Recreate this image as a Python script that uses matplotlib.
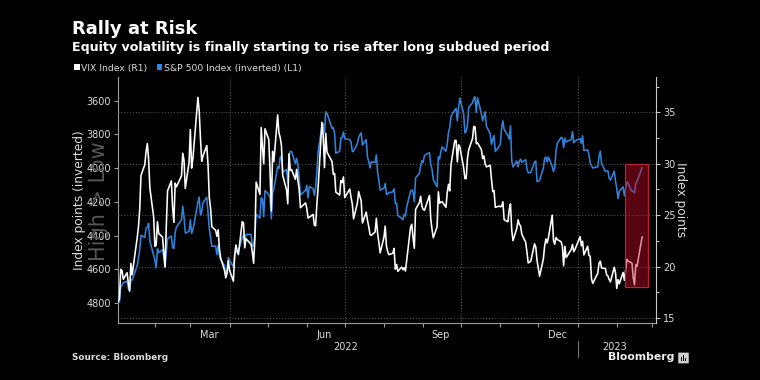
import matplotlib
matplotlib.use("Agg")
import matplotlib.pyplot as plt
import matplotlib.dates as mdates
import matplotlib.transforms as mtransforms
from matplotlib.patches import Rectangle, Patch, FancyBboxPatch
import pandas as pd

# ---------------- data ----------------
holidays = ['2022-01-17', '2022-02-21', '2022-04-15', '2022-05-30', '2022-06-20',
            '2022-07-04', '2022-09-05', '2022-11-24', '2022-12-26', '2023-01-02',
            '2023-01-16', '2023-02-20']
dates = pd.bdate_range('2022-01-03', '2023-02-21')
dates = dates[~dates.isin(pd.to_datetime(holidays))]

spx = [
    4796.6, 4793.5, 4700.6, 4696.1, 4677.0, 4670.3, 4713.1, 4726.4, 4659.0, 4662.9, 4577.1, 4532.8, 4482.7, 4397.9, 4410.1, 4356.5, 4349.9, 4326.5, 4431.9, 4515.6,
    4546.5, 4589.4, 4477.4, 4500.5, 4483.9, 4521.5, 4587.2, 4504.1, 4418.6, 4401.7, 4471.1, 4475.0, 4380.3, 4348.9, 4304.8, 4225.5, 4288.7, 4384.7, 4373.9,
    4306.3, 4386.5, 4363.5, 4328.9, 4201.1, 4170.7, 4277.9, 4259.5, 4204.3, 4173.1, 4262.5, 4357.9, 4411.7, 4463.1, 4461.2, 4511.6, 4456.2, 4520.2, 4543.1, 4575.5, 4631.6, 4602.5, 4530.4,
    4545.9, 4582.6, 4525.1, 4481.2, 4500.2, 4488.3, 4412.5, 4397.5, 4446.6, 4392.6, 4391.7, 4462.2, 4459.5, 4393.7, 4271.8, 4296.1, 4175.2, 4183.9, 4287.5, 4131.9,
    4155.4, 4175.5, 4300.2, 4146.9, 4123.3, 3991.2, 4001.1, 3935.2, 3930.1, 4023.9, 4008.0, 4088.9, 3923.7, 3900.8, 3901.4, 3973.8, 3941.5, 3978.7, 4057.8, 4158.2, 4132.2,
    4101.2, 4176.8, 4108.5, 4121.4, 4160.7, 4115.8, 4017.8, 3900.9, 3749.6, 3735.5, 3790.0, 3666.8, 3674.8, 3764.8, 3759.9, 3795.7, 3911.7, 3900.1, 3821.6, 3818.8, 3785.4,
    3825.3, 3831.4, 3845.1, 3902.6, 3899.4, 3854.4, 3818.8, 3801.8, 3790.4, 3863.2, 3830.9, 3936.7, 3959.9, 3998.9, 3961.6, 3966.8, 3921.1, 4023.6, 4072.4, 4130.3,
    4118.6, 4091.2, 4155.2, 4151.9, 4145.2, 4140.1, 4122.5, 4210.2, 4207.3, 4280.2, 4297.1, 4305.2, 4274.0, 4283.7, 4228.5, 4138.0, 4128.7, 4140.8, 4199.1, 4057.7, 4030.6, 3986.2, 3955.0,
    3966.9, 3924.3, 3908.2, 3979.9, 4006.2, 4067.4, 4110.4, 3932.7, 3946.0, 3901.4, 3873.3, 3899.9, 3856.1, 3789.9, 3758.0, 3693.2, 3655.0, 3647.3, 3719.0, 3640.5, 3585.6,
    3678.4, 3790.9, 3783.3, 3744.5, 3639.7, 3612.4, 3588.8, 3577.0, 3669.9, 3583.1, 3678.0, 3720.0, 3695.2, 3665.8, 3752.8, 3797.3, 3859.1, 3830.6, 3807.3, 3901.1, 3872.0,
    3856.1, 3759.7, 3719.9, 3770.6, 3806.8, 3828.1, 3748.6, 3956.4, 3992.9, 3957.3, 3991.7, 3958.8, 3946.6, 3965.3, 3949.9, 4003.6, 4027.3, 4026.1, 3963.9, 3957.6, 4080.1,
    4076.6, 4071.7, 3998.8, 3941.3, 3933.9, 3963.5, 3934.4, 3990.6, 4019.7, 3995.3, 3895.8, 3852.4, 3817.7, 3821.6, 3878.4, 3822.4, 3844.8, 3829.3, 3783.2, 3849.3, 3839.5,
    3824.1, 3853.0, 3808.1, 3895.1, 3892.1, 3919.3, 3969.6, 3983.2, 3999.1, 3991.0, 3928.9, 3898.9, 3972.6, 4019.8, 4017.0, 4016.2, 4060.4, 4070.6, 4017.8, 4076.6,
    4119.2, 4179.8, 4136.5, 4111.1, 4164.0, 4117.9, 4081.5, 4090.5, 4137.3, 4136.1, 4147.6, 4090.4, 4079.1, 3997.3,
]

vix = [
    16.60, 16.91, 19.73, 19.61, 18.76, 19.40, 18.41, 17.62, 20.31, 19.19, 22.79, 23.85, 25.59, 28.85, 29.90, 31.16, 31.96, 30.49, 27.66, 24.83,
    21.96, 22.09, 24.35, 23.22, 22.86, 21.44, 19.96, 23.91, 27.36, 28.33, 25.70, 24.29, 28.11, 27.75, 28.81, 31.02, 30.32, 27.59, 30.15,
    33.32, 29.57, 30.48, 31.98, 36.45, 35.13, 32.45, 30.23, 30.75, 31.77, 29.83, 26.67, 25.67, 23.87, 23.53, 22.94, 23.57, 21.67, 20.81, 19.63, 18.90, 19.33, 20.56,
    19.63, 18.57, 21.03, 22.10, 21.55, 21.16, 24.37, 24.26, 21.82, 22.70, 22.17, 21.37, 20.32, 22.68, 28.21, 27.02, 33.52, 31.60, 29.99, 33.40,
    32.34, 29.25, 25.42, 31.20, 30.19, 34.75, 32.99, 32.56, 31.77, 28.87, 27.47, 26.10, 30.96, 29.35, 29.43, 28.48, 29.45, 28.37, 27.50, 25.72, 26.19,
    25.69, 24.72, 24.79, 25.07, 24.02, 23.96, 26.09, 27.75, 34.02, 32.69, 29.62, 32.95, 31.13, 30.19, 28.95, 29.05, 27.23, 26.95, 28.36, 28.16, 28.71,
    26.70, 27.54, 26.73, 26.08, 24.64, 26.17, 27.29, 26.82, 26.40, 24.23, 25.30, 24.50, 23.88, 23.11, 23.03, 23.36, 24.69, 23.24, 22.33, 21.33,
    22.84, 23.93, 21.95, 21.44, 21.15, 21.29, 21.77, 19.74, 20.20, 19.53, 19.95, 19.69, 19.90, 19.56, 20.60, 23.80, 24.11, 22.82, 21.78, 25.56, 26.21, 26.83, 25.87,
    25.56, 25.47, 26.91, 24.64, 23.61, 22.79, 23.87, 27.27, 26.16, 26.27, 26.30, 25.76, 27.16, 27.99, 27.35, 29.92, 32.26, 32.27, 30.18, 31.84, 31.62,
    29.59, 28.55, 28.55, 30.52, 31.36, 32.45, 33.63, 33.57, 31.94, 32.02, 31.37, 30.50, 30.76, 29.98, 29.69, 29.85, 28.46, 27.28, 27.39, 25.75, 25.88,
    25.81, 25.86, 26.30, 24.55, 24.35, 25.54, 26.09, 23.53, 22.52, 23.73, 24.54, 24.11, 23.93, 23.12, 22.36, 21.42, 20.35, 20.50, 22.21, 21.89, 20.58,
    19.84, 19.06, 20.75, 22.01, 22.68, 22.29, 22.83, 25.00, 22.55, 22.17, 22.83, 22.62, 22.42, 21.97, 20.07, 21.97, 20.87, 21.65, 22.14, 21.44, 21.67,
    22.90, 22.01, 22.46, 21.13, 21.97, 21.09, 21.00, 18.83, 18.35, 19.36, 20.34, 20.52, 19.85, 19.81, 19.20, 19.08, 18.73, 18.51, 19.94, 19.40,
    17.87, 18.73, 18.33, 19.43, 18.66, 19.63, 20.71, 20.53, 20.34, 18.91, 18.23, 20.17, 20.02, 22.87,
]

spx_ticks = [3600, 3800, 4000, 4200, 4400, 4600, 4800]
vix_ticks = [15, 20, 25, 30, 35]
month_labels = ['Mar', 'Jun', 'Sep', 'Dec']
month_label_dates = ['2022-03-16', '2022-06-15', '2022-09-15', '2022-12-16']
grid_dates = ['2022-04-01', '2022-07-01', '2022-10-01', '2023-01-01']
year_labels = ['2022', '2023']
year_label_dates = ['2022-07-02', '2023-01-30']
highlight_start, highlight_end = '2023-02-07 12:00', '2023-02-25 12:00'
highlight_low, highlight_high = 18.05, 30.0

# ---------------- styling ----------------
BLUE = '#3282dc'
GRID = '#5a5a5a'
SPINE = '#9a9a9a'
TXT = '#dcdcdc'
plt.rcParams['font.family'] = ['DejaVu Sans']

fig = plt.figure(figsize=(7.6, 3.8), dpi=100, facecolor='black')
ax1 = fig.add_axes([118 / 760, 1 - 323 / 380, (656 - 118) / 760, (323 - 77) / 380])
ax1.set_facecolor('black')
ax2 = ax1.twinx()

n = min(len(dates), len(spx), len(vix))
ax1.plot(dates[:n], spx[:n], color=BLUE, lw=1.15, zorder=3)
ax2.plot(dates[:n], vix[:n], color='white', lw=1.15, zorder=3)

ax1.set_xlim(pd.Timestamp('2022-01-02 20:00'), pd.Timestamp('2023-03-04'))
ax1.set_ylim(4917, 3460)
ax2.set_ylim(14.51, 38.43)

# grid
for v in vix_ticks:
    ax2.axhline(v, color=GRID, lw=0.7, ls=(0, (1, 2)), zorder=1)
for d in grid_dates:
    ax1.axvline(pd.Timestamp(d), color=GRID, lw=0.7, ls=(0, (1, 2)), zorder=1)

# highlight box
x0 = mdates.date2num(pd.Timestamp(highlight_start))
x1 = mdates.date2num(pd.Timestamp(highlight_end))
ax2.add_patch(Rectangle((x0, highlight_low), x1 - x0, highlight_high - highlight_low,
                        facecolor=(0.78, 0.05, 0.15, 0.45), edgecolor=(0.72, 0.14, 0.20, 1.0),
                        lw=0.9, zorder=6))

# spines
for s in ['top', 'right']:
    ax1.spines[s].set_visible(False)
for s in ['top', 'left', 'bottom']:
    ax2.spines[s].set_visible(False)
ax1.spines['left'].set_color(SPINE)
ax1.spines['bottom'].set_color(SPINE)
ax2.spines['right'].set_color('#c8c8c8')
for sp in [ax1.spines['left'], ax1.spines['bottom'], ax2.spines['right']]:
    sp.set_linewidth(0.8)

# y ticks
ax1.set_yticks(spx_ticks)
ax1.set_yticklabels([str(t) for t in spx_ticks])
ax1.tick_params(axis='y', colors=SPINE, labelcolor=TXT, labelsize=7, length=3, width=0.8, pad=2)
ax2.set_yticks(vix_ticks)
ax2.set_yticks([17.5, 22.5, 27.5, 32.5, 37.5], minor=True)
ax2.tick_params(axis='y', which='major', colors='#c8c8c8', labelcolor=TXT, labelsize=7, length=3, width=0.8, pad=2)
ax2.tick_params(axis='y', which='minor', colors='#c8c8c8', length=2, width=0.8)

# x ticks
ax1.xaxis.set_major_locator(mdates.MonthLocator())
ax1.xaxis.set_major_formatter(plt.NullFormatter())
ax1.set_xticks([pd.Timestamp(d) for d in month_label_dates], minor=True)
ax1.set_xticklabels(month_labels, minor=True)
ax1.tick_params(axis='x', which='major', colors=SPINE, length=3, width=0.8)
ax1.tick_params(axis='x', which='minor', length=0, labelcolor=TXT, labelsize=7, pad=5)

trans = mtransforms.blended_transform_factory(ax1.transData, ax1.transAxes)
for lab, d in zip(year_labels, year_label_dates):
    ax1.text(pd.Timestamp(d), -0.0976, lab, transform=trans, ha='center', va='center',
             color=TXT, fontsize=7)
ax1.plot([pd.Timestamp('2023-01-01')] * 2, [-0.072, -0.137], transform=trans,
         color='#777777', lw=0.8, clip_on=False)

# axis labels (the faint "High > Low" watermark sits behind the tick labels, as in the original)
fig.text(99 / 760, 1 - 201 / 380, 'High > Low', rotation=90, fontsize=15,
         color='#555555', ha='center', va='center', zorder=0)
fig.text(79 / 760, 1 - 200 / 380, 'Index points (inverted)', rotation=90, fontsize=8.8,
         color=TXT, ha='center', va='center')
fig.text(681 / 760, 1 - 200 / 380, 'Index points', rotation=270, fontsize=8.8,
         color=TXT, ha='center', va='center')

# titles
fig.text(72 / 760, 1 - 29 / 380, 'Rally at Risk', fontsize=13, weight='bold',
         color='white', ha='left', va='center')
fig.text(72 / 760, 1 - 47 / 380,
         'Equity volatility is finally starting to rise after long subdued period',
         fontsize=9.1, weight='bold', color='white', ha='left', va='center')

# legend
leg = fig.legend(handles=[Patch(facecolor='white'), Patch(facecolor='#2b86f0')],
                 labels=['VIX Index (R1)', 'S&P 500 Index (inverted) (L1)'],
                 loc='center left', bbox_to_anchor=(74 / 760, 1 - 68 / 380), ncol=2,
                 frameon=False, fontsize=6.7, handlelength=0.6, handleheight=0.6,
                 handletextpad=0.2, columnspacing=1.0, borderpad=0, borderaxespad=0)
for t in leg.get_texts():
    t.set_color(TXT)

# footer
fig.text(72 / 760, 1 - 358 / 380, 'Source: Bloomberg', fontsize=6.4, weight='bold',
         color=TXT, ha='left', va='center')
fig.text(674 / 760, 1 - 357 / 380, 'Bloomberg', fontsize=7.8, weight='bold',
         color='#eeeeee', ha='right', va='center')
fig.patches.append(FancyBboxPatch((679 / 760, 1 - 363 / 380), 9 / 760, 10 / 380,
                                  boxstyle='round,pad=0.001', transform=fig.transFigure,
                                  facecolor='#cfcfcf', edgecolor='none'))
for i, h in enumerate([4, 6, 3]):
    fig.patches.append(Rectangle(((681 + i * 2) / 760, 1 - 361 / 380), 1 / 760, h / 380,
                                 transform=fig.transFigure, facecolor='black', edgecolor='none'))

fig.savefig('out.png', dpi=100, facecolor='black')
